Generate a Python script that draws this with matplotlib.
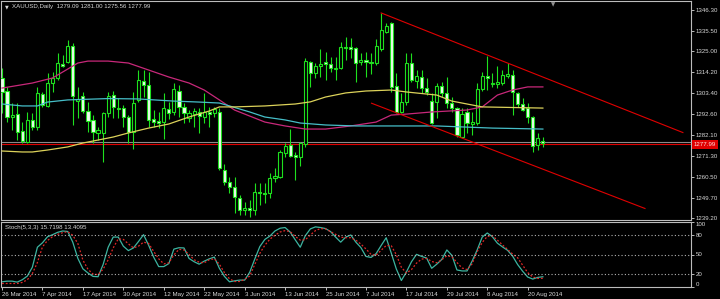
import matplotlib
matplotlib.use("Agg")
import matplotlib.pyplot as plt
import matplotlib.transforms as mtransforms
import numpy as np

# XAUUSD daily bars, 26 Mar 2014 .. 25 Aug 2014
opens = [1311.3, 1304.6, 1291.2, 1292.7, 1284.0, 1278.3, 1289.7, 1286.1, 1303.1, 1296.9,
         1308.7, 1311.3, 1318.5, 1319.5, 1327.8, 1299.4, 1302.0, 1294.3, 1289.7, 1283.0,
         1283.0, 1293.3, 1302.5, 1295.8, 1295.8, 1291.2, 1283.5, 1300.0, 1309.7, 1307.7,
         1290.2, 1289.1, 1288.6, 1295.3, 1293.8, 1304.6, 1296.4, 1290.7, 1292.7, 1293.8,
         1291.2, 1293.8, 1293.3, 1293.8, 1263.9, 1257.7, 1255.2, 1249.5, 1243.3, 1244.4,
         1243.3, 1252.6, 1252.1, 1252.1, 1259.8, 1260.3, 1272.7, 1276.8, 1271.6, 1270.6,
         1277.3, 1319.5, 1313.9, 1317.5, 1319.5, 1318.5, 1315.9, 1316.4, 1326.7, 1327.3,
         1326.7, 1319.5, 1320.6, 1319.5, 1319.0, 1326.2, 1335.0, 1339.6, 1307.2, 1293.8,
         1298.9, 1319.0, 1309.7, 1311.8, 1306.1, 1299.4, 1298.9, 1307.2, 1303.6, 1298.4,
         1295.8, 1280.9, 1293.8, 1287.6, 1288.1, 1305.6, 1312.3, 1308.2, 1308.2, 1308.7,
         1312.3, 1312.9, 1303.6, 1297.9, 1295.8, 1291.2, 1276.8, 1279.09]
highs = [1316.4, 1306.7, 1298.4, 1298.4, 1288.6, 1293.8, 1293.3, 1306.7, 1304.1, 1313.9,
         1314.4, 1324.2, 1323.1, 1330.9, 1329.3, 1306.7, 1304.1, 1298.9, 1292.2, 1286.1,
         1293.8, 1304.1, 1304.6, 1301.0, 1297.4, 1292.2, 1304.1, 1315.4, 1315.4, 1314.4,
         1294.8, 1293.8, 1303.6, 1298.9, 1308.7, 1307.7, 1298.4, 1294.8, 1295.8, 1295.8,
         1303.6, 1296.4, 1296.4, 1295.8, 1267.0, 1260.3, 1260.3, 1251.0, 1247.4, 1248.5,
         1257.2, 1257.2, 1257.2, 1262.4, 1264.9, 1274.2, 1277.8, 1285.0, 1273.2, 1278.3,
         1321.6, 1320.0, 1319.0, 1326.2, 1324.7, 1322.1, 1322.1, 1329.8, 1332.4, 1331.9,
         1327.3, 1324.2, 1324.7, 1324.2, 1331.4, 1344.8, 1339.6, 1340.1, 1313.9, 1303.6,
         1324.2, 1324.2, 1315.4, 1315.4, 1311.3, 1303.6, 1308.7, 1309.2, 1311.8, 1301.5,
         1296.4, 1295.8, 1295.8, 1293.8, 1308.7, 1314.4, 1322.6, 1313.9, 1317.5, 1315.4,
         1319.0, 1315.4, 1304.1, 1301.0, 1298.4, 1291.7, 1283.0, 1281.00]
lows = [1293.3, 1288.6, 1284.5, 1279.4, 1277.8, 1277.8, 1284.5, 1284.5, 1296.4, 1296.4,
        1304.1, 1310.3, 1316.9, 1319.0, 1287.1, 1290.7, 1293.3, 1283.5, 1277.8, 1279.4,
        1268.0, 1291.2, 1290.7, 1290.7, 1286.1, 1277.8, 1274.7, 1298.9, 1301.5, 1286.1,
        1286.1, 1285.5, 1279.9, 1290.2, 1292.2, 1291.2, 1288.1, 1288.6, 1286.1, 1283.0,
        1288.1, 1286.1, 1291.2, 1263.9, 1256.2, 1252.1, 1241.8, 1240.7, 1240.7, 1239.7,
        1240.7, 1245.9, 1246.9, 1249.5, 1257.7, 1259.8, 1270.6, 1270.6, 1258.8, 1266.0,
        1275.8, 1306.7, 1311.3, 1311.8, 1310.3, 1314.4, 1310.3, 1315.9, 1320.6, 1321.6,
        1309.2, 1318.0, 1311.8, 1313.4, 1318.0, 1325.2, 1334.5, 1304.1, 1293.3, 1293.3,
        1297.4, 1309.2, 1306.1, 1303.6, 1302.5, 1287.6, 1290.7, 1301.5, 1295.8, 1293.8,
        1280.9, 1280.4, 1283.0, 1281.9, 1287.1, 1304.6, 1305.1, 1306.7, 1306.1, 1307.7,
        1311.3, 1292.2, 1296.4, 1294.3, 1288.1, 1273.2, 1274.2, 1275.56]
closes = [1304.1, 1291.2, 1292.2, 1283.5, 1278.9, 1289.7, 1286.1, 1303.6, 1297.4, 1308.7,
          1311.3, 1319.0, 1317.5, 1327.8, 1302.0, 1300.5, 1294.3, 1289.1, 1283.5, 1284.5,
          1293.3, 1302.0, 1296.4, 1295.3, 1291.2, 1283.5, 1298.4, 1310.3, 1307.7, 1289.7,
          1288.6, 1288.1, 1295.8, 1293.3, 1305.6, 1296.4, 1293.3, 1293.3, 1294.3, 1291.7,
          1293.8, 1292.7, 1295.3, 1264.9, 1257.7, 1255.2, 1250.0, 1243.3, 1244.4, 1243.3,
          1252.6, 1252.1, 1251.6, 1259.8, 1260.8, 1273.2, 1276.3, 1271.1, 1270.6, 1277.8,
          1320.0, 1313.9, 1317.5, 1318.5, 1318.5, 1316.4, 1316.4, 1327.3, 1327.3, 1326.2,
          1319.0, 1320.6, 1319.5, 1319.0, 1327.8, 1336.0, 1338.1, 1306.7, 1293.8, 1298.9,
          1319.0, 1310.3, 1312.3, 1306.1, 1304.1, 1288.1, 1307.2, 1303.6, 1298.4, 1295.8,
          1281.9, 1292.7, 1288.1, 1288.6, 1305.6, 1312.3, 1311.3, 1308.7, 1309.2, 1312.9,
          1313.4, 1304.1, 1297.9, 1294.8, 1291.2, 1276.3, 1280.4, 1277.99]

# moving averages (bar index, price)
ma_magenta_bars = [0, 6, 10, 13, 15, 17, 21, 25, 29, 33, 37, 40, 43, 46, 49, 52, 56, 60, 64,
                   69, 74, 77, 80, 85, 92, 95, 98, 101, 104, 107]
ma_magenta = [1306.1, 1308.7, 1311.3, 1315.9, 1319.0, 1320.0, 1320.0, 1319.0, 1315.4, 1311.8,
              1308.7, 1305.1, 1300.0, 1294.8, 1291.7, 1288.6, 1286.6, 1285.0, 1285.0, 1286.6,
              1288.6, 1292.2, 1292.7, 1293.8, 1294.8, 1296.4, 1302.5, 1305.1, 1306.7, 1306.7]
ma_cyan_bars = [0, 4, 7, 9, 13, 21, 27, 34, 39, 43, 45, 49, 52, 56, 59, 64, 70, 86, 97, 107]
ma_cyan = [1297.9, 1296.9, 1296.9, 1298.9, 1300.0, 1300.7, 1300.5, 1299.4, 1298.9, 1298.4,
           1296.9, 1293.8, 1291.2, 1289.7, 1288.1, 1287.1, 1286.6, 1286.6, 1285.5, 1285.0]
ma_yellow_bars = [0, 4, 6, 9, 13, 16, 22, 25, 29, 33, 37, 41, 43, 46, 52, 58, 61, 64, 68, 72,
                  77, 80, 86, 89, 92, 95, 107]
ma_yellow = [1273.7, 1273.2, 1273.2, 1274.2, 1275.8, 1277.8, 1280.9, 1283.0, 1285.5, 1287.6,
             1291.2, 1294.3, 1296.4, 1296.4, 1296.9, 1297.9, 1299.0, 1301.5, 1303.6, 1304.6,
             1305.1, 1304.1, 1302.5, 1299.4, 1297.9, 1296.4, 1295.8]

# channel lines drawn on the chart
upper_bars = [75, 134.7]
upper_prices = [1344.8, 1283.2]
lower_bars = [73.1, 127.2]
lower_prices = [1298.3, 1244.1]

gray_level = 1278.2
red_level = 1277.05

price_ticks = [1346.30, 1335.50, 1325.00, 1314.20, 1303.40, 1292.60, 1282.10,
               1271.30, 1260.50, 1249.70, 1239.20]

# Stochastic(5,3,3)
stoch_k = [8.0, 9.0, 9.0, 7.5, 11.1, 16.8, 30.4, 61.2, 68.0, 77.3,
           80.5, 84.1, 86.2, 85.4, 69.0, 44.1, 28.0, 21.6, 16.3, 15.8,
           34.5, 61.2, 76.8, 76.8, 62.8, 56.0, 60.1, 70.0, 80.5, 64.3,
           46.0, 31.4, 31.4, 36.0, 58.3, 60.4, 60.1, 43.9, 38.9, 35.1,
           39.8, 43.3, 46.0, 28.8, 16.3, 8.0, 9.5, 10.6, 10.6, 22.6,
           42.9, 62.2, 73.2, 78.4, 86.2, 90.4, 91.5, 84.6, 72.7, 61.2,
           78.9, 89.4, 92.5, 91.5, 89.9, 85.2, 76.8, 69.0, 76.8, 80.0,
           69.0, 60.6, 47.0, 45.5, 51.3, 63.8, 75.8, 52.3, 27.8, 10.0,
           23.1, 38.8, 50.2, 47.1, 44.5, 28.8, 35.1, 42.4, 57.0, 48.7,
           26.2, 24.7, 24.7, 39.8, 57.0, 76.8, 83.1, 77.4, 67.4, 61.7,
           56.5, 47.6, 34.6, 24.2, 15.3, 12.2, 14.8, 15.72]
stoch_d = [5.4, 5.4, 5.4, 5.4, 7.0, 11.1, 20.5, 37.7, 61.7, 71.6,
           77.4, 81.0, 83.6, 85.2, 79.5, 66.9, 41.4, 27.3, 20.0, 19.0,
           27.3, 41.9, 60.1, 74.2, 73.2, 66.4, 60.1, 62.8, 69.0, 67.0,
           54.9, 43.4, 35.6, 37.2, 49.2, 58.0, 57.0, 50.2, 41.9, 38.2,
           37.2, 41.9, 43.4, 35.1, 22.1, 12.7, 8.5, 8.5, 11.6, 16.8,
           34.6, 51.8, 64.3, 73.7, 79.5, 84.6, 86.7, 85.2, 77.9, 72.1,
           72.7, 80.0, 86.7, 89.9, 89.4, 85.2, 81.0, 76.6, 75.8, 75.8,
           72.0, 66.0, 58.5, 50.2, 48.7, 56.5, 63.8, 63.6, 49.7, 30.4,
           21.5, 26.8, 36.7, 42.9, 44.0, 39.3, 37.2, 41.9, 48.1, 46.6,
           37.7, 29.3, 26.8, 35.6, 54.4, 68.5, 77.9, 78.9, 72.1, 64.8,
           58.0, 50.7, 45.0, 33.5, 22.1, 15.3, 13.2, 13.41]
stoch_levels = [20, 50, 80]
stoch_ticks = [0, 20, 50, 80, 100]

date_bars = [0, 8, 16, 24, 32, 40, 48, 56, 64, 72, 80, 88, 96, 104]
date_labels = ["26 Mar 2014", "7 Apr 2014", "17 Apr 2014", "30 Apr 2014", "12 May 2014",
               "22 May 2014", "3 Jun 2014", "13 Jun 2014", "25 Jun 2014", "7 Jul 2014",
               "17 Jul 2014", "29 Jul 2014", "8 Aug 2014", "20 Aug 2014"]

plt.rcParams["font.family"] = ["Liberation Sans", "DejaVu Sans"]
FS = 4.4
txt = "#d8d8d8"
green = "#1ee01e"
border = "#bcbcbc"

W, H = 720, 299
fig = plt.figure(figsize=(W / 100, H / 100), dpi=100, facecolor="black")
ax = fig.add_axes([1 / W, 1 - 220 / H, 690 / W, 219 / H], facecolor="black")
ax2 = fig.add_axes([1 / W, 1 - 287 / H, 690 / W, 65 / H], facecolor="black", sharex=ax)

o = np.array(opens); h = np.array(highs); l = np.array(lows); c = np.array(closes)
x = np.arange(len(o))
up = c >= o

ax.vlines(x, l, h, color=green, lw=0.8, zorder=2)
ax.bar(x[up], (c - o)[up], bottom=o[up], width=0.62, color="black",
       edgecolor=green, linewidth=0.8, zorder=3)
ax.bar(x[~up], (o - c)[~up], bottom=c[~up], width=0.62, color="#eefcee",
       edgecolor=green, linewidth=0.8, zorder=3)

ax.plot(ma_magenta_bars, ma_magenta, color="#c8287a", lw=0.9, zorder=4)
ax.plot(ma_cyan_bars, ma_cyan, color="#46bec8", lw=0.9, zorder=4)
ax.plot(ma_yellow_bars, ma_yellow, color="#dcd25a", lw=0.9, zorder=4)

ax.plot(upper_bars, upper_prices, color="#e00000", lw=0.8, zorder=5)
ax.plot(lower_bars, lower_prices, color="#e00000", lw=0.8, zorder=5)
ax.axhline(gray_level, color="#8a8a8a", lw=0.8, zorder=1)
ax.axhline(red_level, color="#e00000", lw=0.8, zorder=1)

ax.set_xlim(-0.2, 136.3)
ax.set_ylim(1238.17, 1350.94)
ax.yaxis.tick_right()
ax.set_yticks(price_ticks)
ax.set_yticklabels(["%.2f" % v for v in price_ticks])
ax.tick_params(axis="y", colors=txt, labelsize=FS, length=2, width=0.6, pad=1.5)
ax.tick_params(axis="x", bottom=False, labelbottom=False)

# current price box on the scale
trans = mtransforms.blended_transform_factory(ax.transAxes, ax.transData)
ax.text(1.004, red_level, "1277.99", transform=trans, ha="left", va="center",
        fontsize=FS, color="#ffe0e0", zorder=6,
        bbox=dict(boxstyle="square,pad=0.3", fc="#e00000", ec="none"))

ax2.plot(x, stoch_k, color="#3cb4a0", lw=0.9)
ax2.plot(x, stoch_d, color="#e02828", lw=0.9, linestyle=(0, (1.5, 1.5)))
for lv in stoch_levels:
    ax2.axhline(lv, color="#b4b4b4", lw=0.8, linestyle=(0, (1, 2)))
ax2.set_ylim(0, 100)
ax2.yaxis.tick_right()
ax2.set_yticks(stoch_ticks)
ax2.set_yticklabels([str(v) for v in stoch_ticks])
ax2.tick_params(axis="y", colors=txt, labelsize=FS, length=2, width=0.6, pad=1.5)
tl = ax2.get_yticklabels()
tl[0].set_va("bottom")
tl[-1].set_va("top")
ax2.set_xticks(date_bars)
ax2.set_xticklabels(date_labels, ha="left")
ax2.tick_params(axis="x", colors=txt, labelsize=FS, length=2, width=0.6, pad=1.5)

for a in (ax, ax2):
    for s in a.spines.values():
        s.set_color(border)
        s.set_linewidth(0.8)

ax.text(0.006, 0.985, "\u25bc", transform=ax.transAxes, fontsize=3.5, color=txt,
        ha="left", va="top", family=["DejaVu Sans"])
ax.text(0.016, 0.988, "XAUUSD,Daily  1279.09 1281.00 1275.56 1277.99",
        transform=ax.transAxes, fontsize=FS, color=txt, ha="left", va="top")
ax.text(0.80, 0.995, "\u25bc", transform=ax.transAxes, fontsize=4, color="#909090",
        ha="center", va="top", family=["DejaVu Sans"])
ax2.text(0.006, 0.95, "Stoch(5,3,3) 15.7198 13.4095", transform=ax2.transAxes,
         fontsize=FS, color=txt, ha="left", va="top")

fig.savefig("out.png", dpi=100, facecolor="black")
